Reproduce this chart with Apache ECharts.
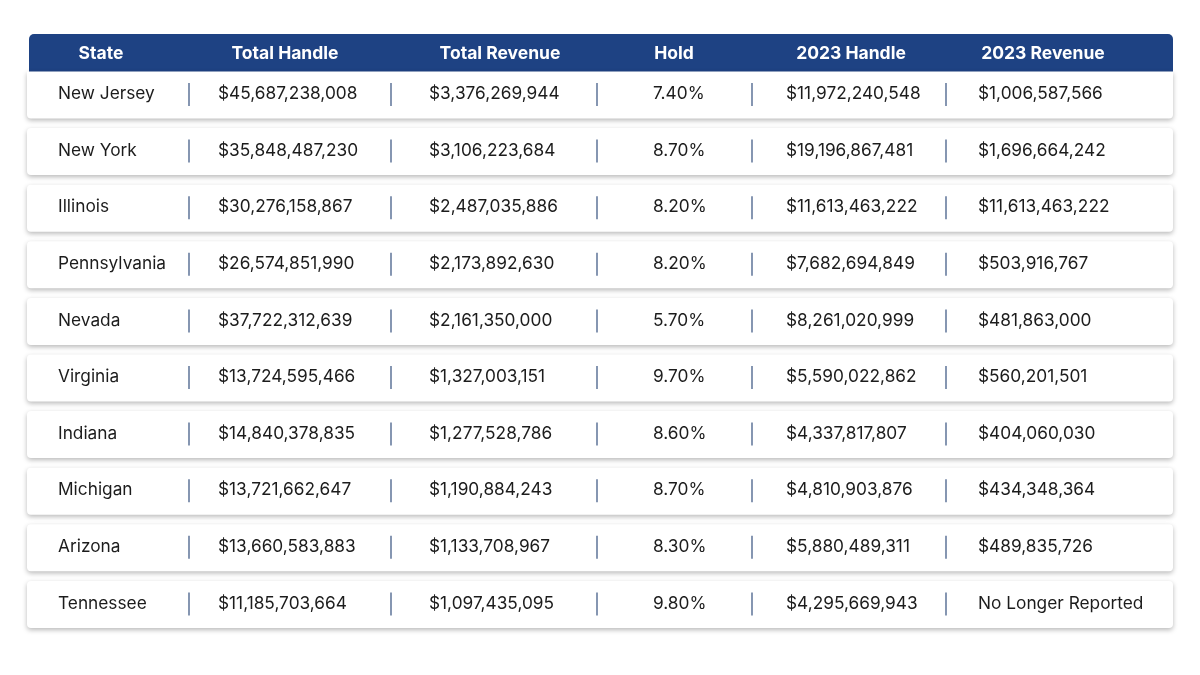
<!DOCTYPE html>
<html>
<head>
<meta charset="utf-8">
<script src="https://cdn.jsdelivr.net/npm/echarts@6/dist/echarts.min.js"></script>
<style>html,body{margin:0;padding:0;background:#fff}#c{width:1200px;height:675px}</style>
</head>
<body>
<div id="c"></div>
<script>
const headers = ["State", "Total Handle", "Total Revenue", "Hold", "2023 Handle", "2023 Revenue"];
const states = ["New Jersey", "New York", "Illinois", "Pennsylvania", "Nevada", "Virginia", "Indiana", "Michigan", "Arizona", "Tennessee"];
const totalHandle = [45687238008, 35848487230, 30276158867, 26574851990, 37722312639, 13724595466, 14840378835, 13721662647, 13660583883, 11185703664];
const totalRevenue = [3376269944, 3106223684, 2487035886, 2173892630, 2161350000, 1327003151, 1277528786, 1190884243, 1133708967, 1097435095];
const hold = [7.4, 8.7, 8.2, 8.2, 5.7, 9.7, 8.6, 8.7, 8.3, 9.8];
const handle2023 = [11972240548, 19196867481, 11613463222, 7682694849, 8261020999, 5590022862, 4337817807, 4810903876, 5880489311, 4295669943];
const revenue2023 = [1006587566, 1696664242, 11613463222, 503916767, 481863000, 560201501, 404060030, 434348364, 489835726, null];

const FONT = "Inter, 'DejaVu Sans', sans-serif";
const HEADER_BG = "#1e4283";
const TEXT = "#1c1c1c";
const SEP = "#35507e";
// layout (pixel columns on a 0..1200 value axis)
const textX = [58, 218, 429, 653, 786, 978];
const sepX = [189, 391, 597, 752, 946];
const headerCX = [101, 285, 500, 674, 851, 1043];
const cardL = 27, cardR = 1173;

const money = v => "$" + v.toLocaleString("en-US");
function rowTexts(i) {
  return [
    states[i],
    money(totalHandle[i]),
    money(totalRevenue[i]),
    hold[i].toFixed(2) + "%",
    money(handle2023[i]),
    revenue2023[i] == null ? "No Longer Reported" : money(revenue2023[i])
  ];
}

const chart = echarts.init(document.getElementById("c"), null, {renderer: "canvas"});

const option = {
  backgroundColor: "#ffffff",
  animation: false,
  grid: {left: 0, right: 0, top: 66.7, height: 566},
  xAxis: {type: "value", min: 0, max: 1200, show: false},
  yAxis: {type: "category", data: states, inverse: true, show: false},
  graphic: [
    {
      type: "group", z: 100,
      children: [
        {type: "rect", shape: {x: 29, y: 34, width: 1144, height: 38, r: [5, 5, 0, 0]}, style: {fill: HEADER_BG}}
      ].concat(headers.map((h, k) => ({
        type: "text",
        style: {
          x: headerCX[k], y: 54, text: h, fill: "#ffffff",
          font: "bold 17.5px " + FONT, textAlign: "center", textVerticalAlign: "middle"
        }
      })))
    }
  ],
  series: [{
    type: "custom",
    coordinateSystem: "cartesian2d",
    data: states.map((s, i) => [0, i]),
    encode: {x: 0, y: 1},
    renderItem: function (params, api) {
      const i = api.value(1);
      const c = api.coord([0, i]);
      const band = api.size([0, 1])[1];
      const h = band * 0.83;
      const cy = c[1];
      const top = cy - h / 2;
      const l = api.coord([cardL, i])[0];
      const r = api.coord([cardR, i])[0];
      const children = [{
        type: "rect",
        shape: {x: l, y: top, width: r - l, height: h, r: i === 0 ? [0, 0, 4, 4] : 4},
        style: {fill: "#ffffff", shadowBlur: 5, shadowOffsetY: 2, shadowOffsetX: 0, shadowColor: "rgba(0,0,0,0.28)"}
      }];
      sepX.forEach(sx => {
        const px = api.coord([sx, i])[0];
        children.push({
          type: "line",
          shape: {x1: px, y1: cy - 12, x2: px, y2: cy + 11},
          style: {stroke: SEP, lineWidth: 1.2}
        });
      });
      const texts = rowTexts(i);
      texts.forEach((t, k) => {
        const px = api.coord([textX[k], i])[0];
        children.push({
          type: "text",
          style: {x: px, y: cy - 1, text: t, fill: TEXT, font: "17.3px " + FONT, textAlign: "left", textVerticalAlign: "middle"}
        });
      });
      return {type: "group", children: children};
    }
  }]
};
chart.setOption(option);
</script>
</body>
</html>
